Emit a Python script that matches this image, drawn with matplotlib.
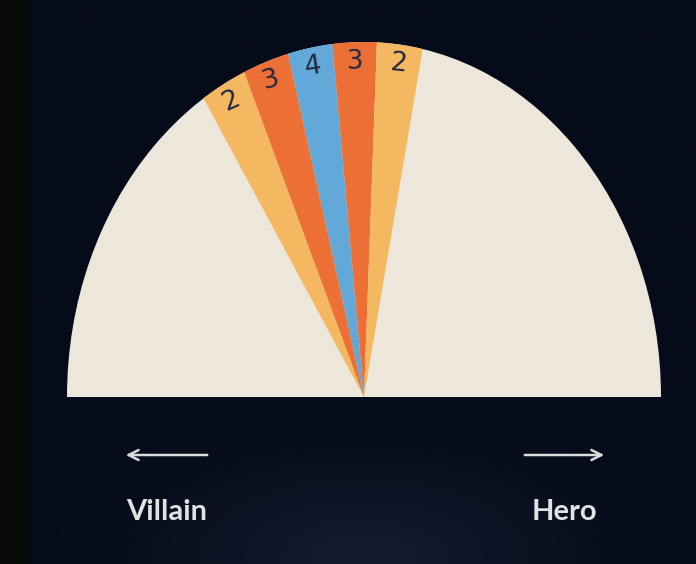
import numpy as np
import matplotlib
matplotlib.use("Agg")
import matplotlib.pyplot as plt
from matplotlib.patches import Wedge, Rectangle

# votes per slice, read left to right
counts = [2, 3, 4, 3, 2]
# slice edges in degrees (180 = villain end, 0 = hero end)
edges = [122.7, 113.8, 104.8, 96.1, 87.5, 78.6]
colors = ["#f3b860", "#ec7036", "#62a9da", "#ec7036", "#f3b860"]
side_labels = ["Villain", "Hero"]

bg = "#060b1a"
cream = "#ede7db"

fig = plt.figure(figsize=(6.96, 5.64), dpi=100)
fig.patch.set_facecolor(bg)
ax = fig.add_axes([0, 0, 1, 1])
ax.set_facecolor(bg)
ax.set_xlim(-364 / 297, (696 - 364) / 297)
ax.set_ylim(-167 / 355, (564 - 167) / 355)
ax.axis("off")

# soft glow near the bottom
gx, gy = np.meshgrid(np.linspace(-1.2256, 1.1178, 300), np.linspace(-0.4704, 1.1183, 300))
glow = np.exp(-((gx - 0.0) ** 2 / 0.4 + (gy + 0.45) ** 2 / 0.06))
ax.imshow(glow, extent=(-1.2256, 1.1178, -0.4704, 1.1183), origin="lower",
          cmap=matplotlib.colors.LinearSegmentedColormap.from_list("g", [bg, "#111a2c"]),
          aspect="auto", zorder=0, vmin=0, vmax=1)

# dark strip at the left edge
fig.patches.append(Rectangle((0, 0), 28 / 696, 1, transform=fig.transFigure,
                             facecolor="#070a07", edgecolor="none", zorder=1))

# half dial
ax.add_patch(Wedge((0, 0), 1, 0, 180, facecolor=cream, edgecolor="none", zorder=2))

for i, c in enumerate(counts):
    a1, a2 = edges[i + 1], edges[i]
    ax.add_patch(Wedge((0, 0), 1, a1, a2, facecolor=colors[i], edgecolor="none", zorder=3))
    mid = np.radians((a1 + a2) / 2)
    r = 0.945
    x, y = r * np.cos(mid), r * np.sin(mid)
    # rotation in display space
    dx, dy = np.cos(mid) * 297, np.sin(mid) * 355
    rot = np.degrees(np.arctan2(dy, dx)) - 90
    ax.text(x, y, str(c), ha="center", va="center", rotation=rot,
            fontsize=19, color="#232842", family="DejaVu Sans", zorder=4)

# arrows
ax.annotate("", xy=(-241 / 297, -58 / 355), xytext=(-154 / 297, -58 / 355),
            arrowprops=dict(arrowstyle="->", color="#dcdcdc", lw=1.8, mutation_scale=18))
ax.annotate("", xy=(243 / 297, -58 / 355), xytext=(158 / 297, -58 / 355),
            arrowprops=dict(arrowstyle="->", color="#dcdcdc", lw=1.8, mutation_scale=18))

ax.text(-197 / 297, -115 / 355, side_labels[0], ha="center", va="center",
        fontsize=21, fontweight="bold", color="#e2e2e2", family="Lato")
ax.text(200 / 297, -115 / 355, side_labels[1], ha="center", va="center",
        fontsize=21, fontweight="bold", color="#e2e2e2", family="Lato")

fig.savefig("out.png", dpi=100, facecolor=bg)
